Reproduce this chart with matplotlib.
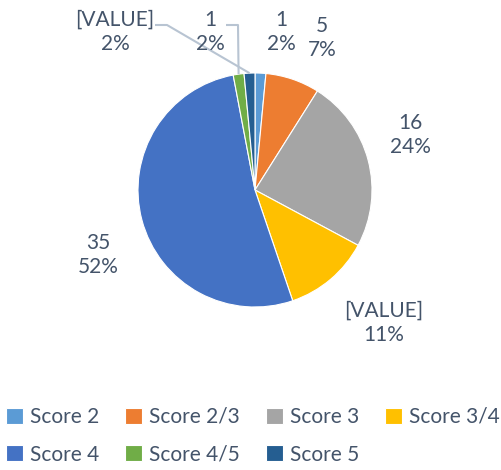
import numpy as np
import matplotlib
matplotlib.use("Agg")
import matplotlib.pyplot as plt

plt.rcParams['font.family'] = ['Lato', 'DejaVu Sans']

# Chart data
categories = ["Score 2", "Score 2/3", "Score 3", "Score 3/4", "Score 4", "Score 4/5", "Score 5"]
counts = [1, 5, 16, 8, 35, 1, 1]
value_labels = ["1", "5", "16", "[VALUE]", "35", "1", "[VALUE]"]
pct_labels = ["2%", "7%", "24%", "11%", "52%", "2%", "2%"]
colors = ["#5B9BD5", "#ED7D31", "#A5A5A5", "#FFC000", "#4472C4", "#70AD47", "#255E91"]

# Layout (pixels in a 501x470 figure)
W, H = 501, 470
cx, cy, R = 255, 190, 117
# label centres in pixels
label_pos = [(281, 32), (322, 38), (410, 135), (384, 323), (98, 255), (210, 32), (115, 32)]
# leader line elbow (pixel) for small slices that need one: (start_x, start_y, elbow_x)
leaders = {5: (226, 25, 238), 6: (155, 25, 167)}

text_color = "#44546A"
line_color = "#B8C4D2"

fig = plt.figure(figsize=(W / 100, H / 100), dpi=100)
ax = fig.add_axes([0, 0, 1, 1])
ax.axis("off")


def px(x, y):
    return (x - cx) / R, (cy - y) / R


wedges, _ = ax.pie(counts, colors=colors, startangle=90, counterclock=False,
                   radius=1.0, wedgeprops=dict(edgecolor="white", linewidth=0.8))
ax.set_xlim(-cx / R, (W - cx) / R)
ax.set_ylim(-(H - cy) / R, cy / R)
ax.set_aspect("auto")

for i, w in enumerate(wedges):
    lx, ly = px(*label_pos[i])
    ax.text(lx, ly, value_labels[i] + "\n" + pct_labels[i], ha="center", va="center",
            fontsize=15, color=text_color, linespacing=1.25)
    if i in leaders:
        sx, sy, ex = leaders[i]
        mid = np.deg2rad((w.theta1 + w.theta2) / 2)
        tx, ty = np.cos(mid), np.sin(mid)
        x0, y0 = px(sx, sy)
        x1, _ = px(ex, sy)
        ax.plot([x0, x1, tx], [y0, y0, ty], color=line_color, lw=1.5,
                solid_capstyle="butt")

# legend fills column by column, so reorder to read row by row
order = [0, 4, 1, 5, 2, 6, 3]
leg = fig.legend([wedges[i] for i in order], [categories[i] for i in order],
                 ncol=4, loc="center", bbox_to_anchor=(0.505, 0.073),
                 frameon=False, fontsize=15, labelcolor=text_color,
                 handlelength=0.8, handleheight=0.8, handletextpad=0.35,
                 columnspacing=1.25, labelspacing=0.85, borderaxespad=0)

fig.savefig("out.png", dpi=100)
